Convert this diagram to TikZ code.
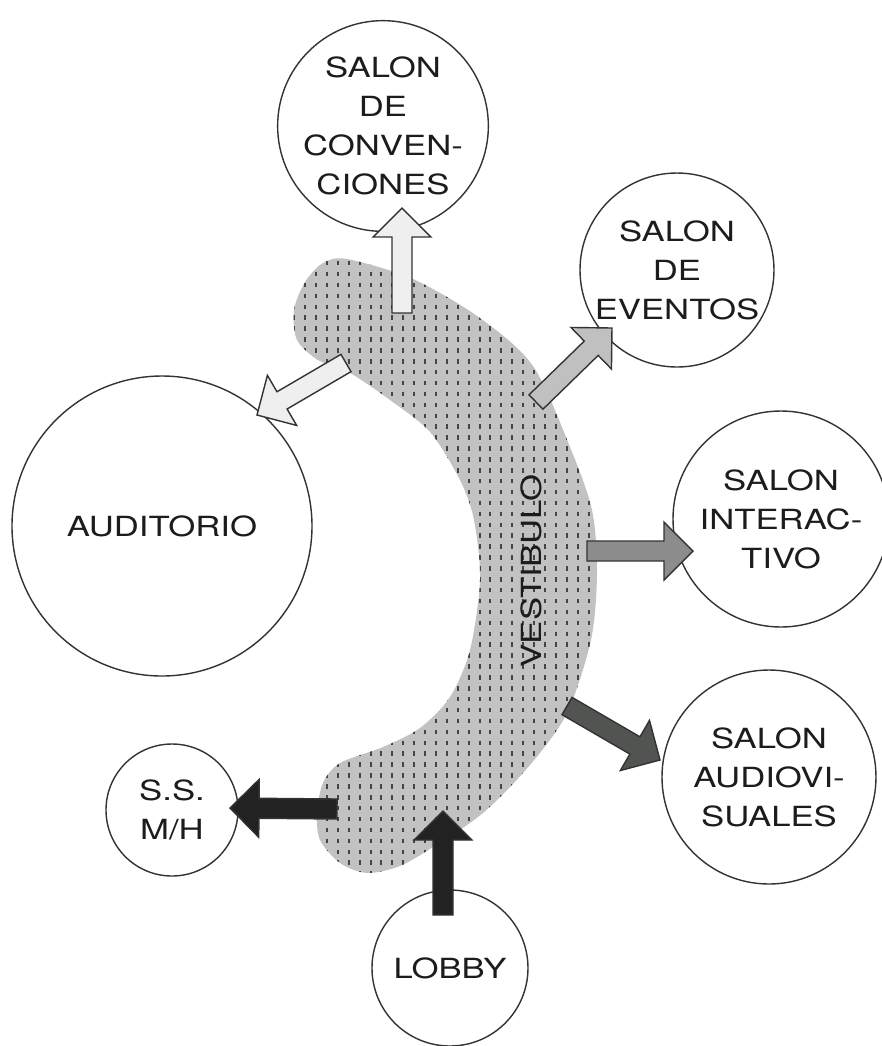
\documentclass[tikz,border=0pt]{standalone}
\usepackage{fontspec}
\setmainfont{TeX Gyre Heros}[FakeStretch=1.25]
\usetikzlibrary{calc}

\definecolor{inkgray}{HTML}{1C1C1C}
\definecolor{linegray}{HTML}{333333}
\definecolor{vestgray}{HTML}{C2C2C2}
\definecolor{dashgray}{HTML}{454545}
\definecolor{arrowpale}{HTML}{EFEFEF}
\definecolor{arrowsilver}{HTML}{C0C0C0}
\definecolor{arrowmid}{HTML}{8C8C8C}
\definecolor{arrowdark}{HTML}{525452}
\definecolor{arrowblack}{HTML}{222222}

% fat block arrow: fill, tail, tip
\newcommand{\blockarrow}[3]{%
    \coordinate (hb) at ($(#3)!2.9mm!(#2)$);
    \draw[arr, fill=#1] ($(#2)!1mm!90:(#3)$) -- ($(hb)!1mm!90:(#3)$) -- ($(hb)!2.9mm!90:(#3)$)
        -- (#3) -- ($(hb)!2.9mm!-90:(#3)$) -- ($(hb)!1mm!-90:(#3)$) -- ($(#2)!1mm!-90:(#3)$) -- cycle;
}

\newcommand{\vestshape}{plot[smooth cycle] coordinates {
    (323,263) (347,259) (413,279) (480,318) (533,366) (570,447) (592,510) (597,573)
    (591,640) (567,713) (530,765) (483,813) (433,847) (400,866) (367,873) (340,863)
    (320,840) (317,813) (323,783) (340,763) (383,747) (420,728) (450,697) (470,650)
    (480,580) (474,520) (460,480) (430,432) (390,400) (350,373) (318,360) (297,340)
    (294,310) (305,282)}}

\begin{document}
\begin{tikzpicture}[
    x=0.1mm, y=-0.1mm,
    every node/.style={font=\fontsize{7.9}{11.1}\selectfont, text=inkgray},
    room/.style={
        circle,
        draw=linegray,
        line width=0.4pt,
        fill=white,
        align=center,
        inner sep=0pt
    },
    arr/.style={draw=linegray, line width=0.4pt, line join=miter},
    vestdash/.style={dashgray, line width=0.2mm, dash pattern=on 0.45mm off 0.64mm}
]
    \useasboundingbox (0,0) rectangle (882,1046);

    % Vestibulo
    \fill[vestgray] \vestshape;
    \begin{scope}
        \clip \vestshape;
        \foreach \x in {294.2,305.1,...,600}
            \draw[vestdash] (\x,250) -- (\x,890);
    \end{scope}
    \node[rotate=90] (vest) at (531,571) {VESTIBULO};

    % Rooms
    \node[room, minimum size=18.4mm] (conv) at (383,126) {SALON\\DE\\CONVEN-\\CIONES};
    \node[room, minimum size=19.4mm] (eventos) at (677,270) {SALON\\DE\\EVENTOS};
    \node[room, minimum size=30mm] (aud) at (162,526) {AUDITORIO};
    \node[room, minimum size=21.6mm] (inter) at (781,519) {SALON\\INTERAC-\\TIVO};
    \node[room, minimum size=21.4mm] (audvis) at (769,777) {SALON\\AUDIOVI-\\SUALES};
    \node[room, minimum size=13.2mm] (ss) at (172,810) {S.S.\\M/H};
    \node[room, minimum size=15.6mm] (lobby) at (450,968) {LOBBY};

    % Arrows
    \coordinate (convtail) at (402,313);
    \coordinate (convtip) at (402,208);
    \coordinate (audtail) at (346,363);
    \coordinate (audtip) at (257,415);
    \coordinate (evtail) at (536,402);
    \coordinate (evtip) at (612,328);
    \coordinate (inttail) at (587,551);
    \coordinate (inttip) at (693,551);
    \coordinate (avtail) at (567,706);
    \coordinate (avtip) at (660,760);
    \coordinate (sstail) at (337,809);
    \coordinate (sstip) at (230,808);
    \coordinate (lobbytail) at (443,915);
    \coordinate (lobbytip) at (443,811);

    \blockarrow{arrowpale}{convtail}{convtip}
    \blockarrow{arrowpale}{audtail}{audtip}
    \blockarrow{arrowsilver}{evtail}{evtip}
    \blockarrow{arrowmid}{inttail}{inttip}
    \blockarrow{arrowdark}{avtail}{avtip}
    \blockarrow{arrowblack}{sstail}{sstip}
    \blockarrow{arrowblack}{lobbytail}{lobbytip}

\end{tikzpicture}
\end{document}
